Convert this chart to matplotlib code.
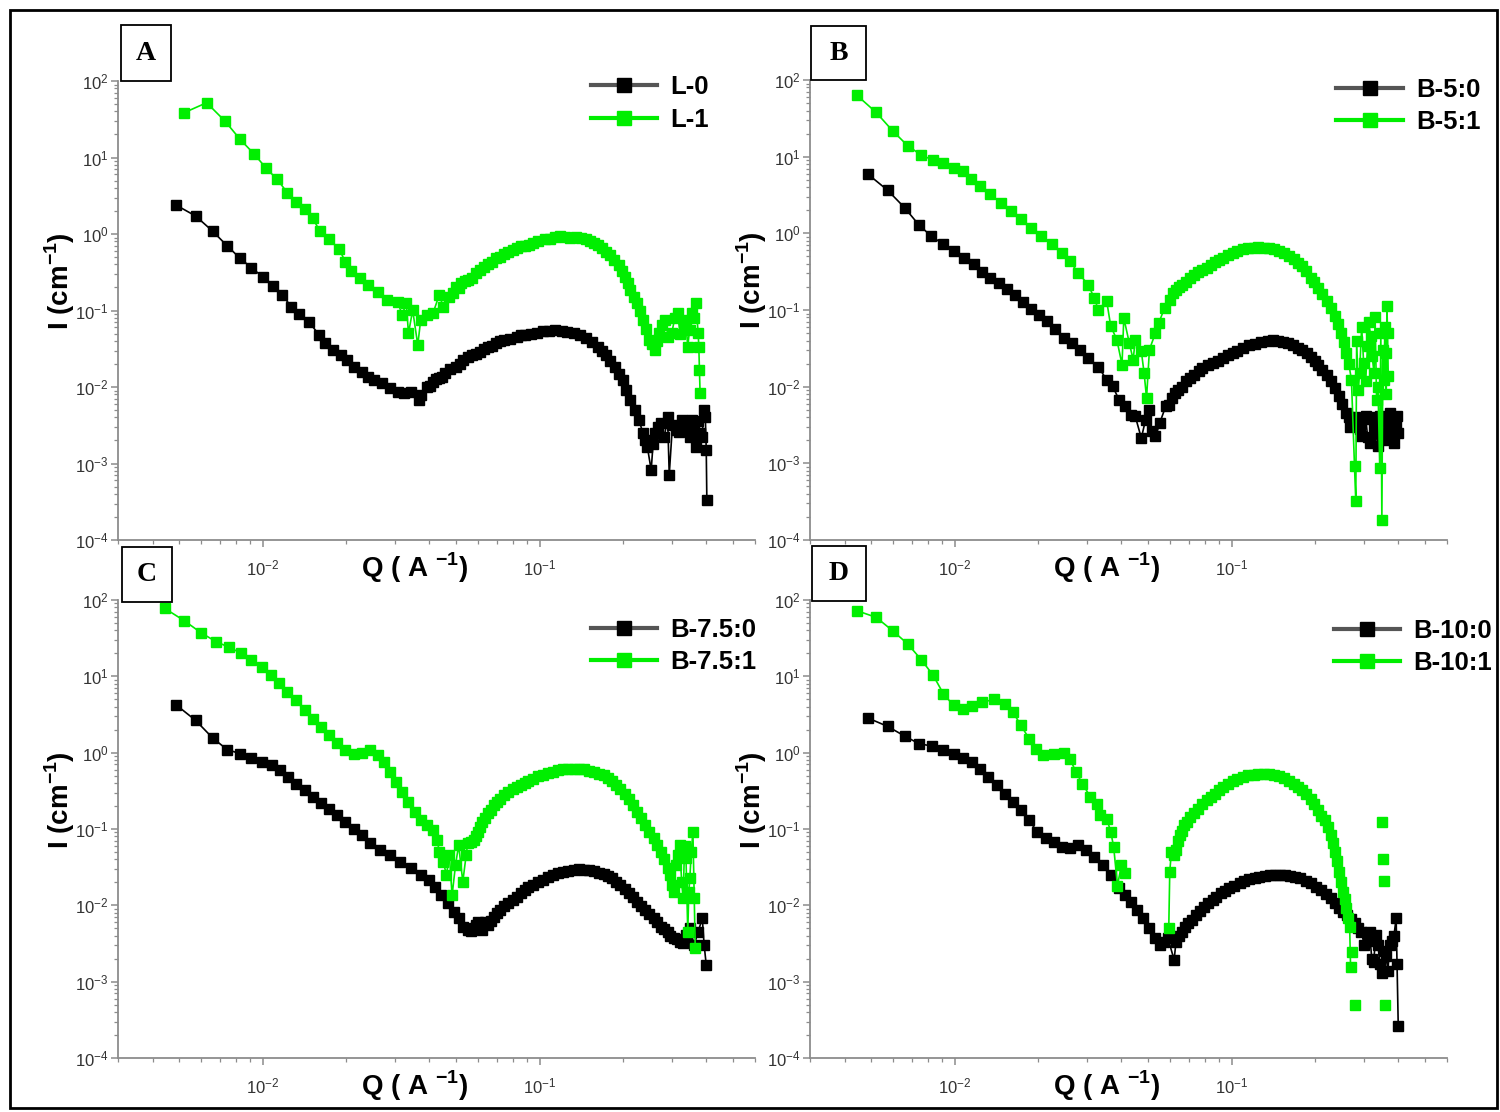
import numpy as np
import matplotlib.pyplot as plt
from matplotlib.patches import Rectangle
from matplotlib.ticker import FixedLocator, LogLocator, NullFormatter

plt.rcParams['font.family'] = ['Liberation Sans', 'DejaVu Sans']
plt.rcParams['mathtext.fontset'] = 'custom'
plt.rcParams['mathtext.rm'] = 'Liberation Sans'
plt.rcParams['mathtext.bf'] = 'Liberation Sans:bold'

nan = np.nan
GREEN = '#00ee00'

# ---- A: L-0 / L-1 ----
q_L0 = [0.00486, 0.00572, 0.00659, 0.00743, 0.00828, 0.0091, 0.00998, 0.0109, 0.01174, 0.0127,
        0.01355, 0.01466, 0.0160, 0.01675, 0.01794, 0.0192, 0.0202, 0.0213, 0.0228, 0.0239,
        0.0252, 0.0270, 0.0289, 0.0309, 0.0325, 0.0342, 0.0366, 0.0372, 0.0392, 0.0412,
        0.0434, 0.0456, 0.0497, 0.0531, 0.0569, 0.0608, 0.0651, 0.0697, 0.0746, 0.0826,
        0.0883, 0.098, 0.108, 0.120, 0.133, 0.147, 0.163, 0.174, 0.187, 0.200,
        0.213, 0.229, 0.236, 0.245, 0.253, 0.262, 0.275, 0.290, 0.294, 0.310,
        0.327, 0.343, 0.355, 0.367, 0.380, 0.393, 0.400, 0.402]
i_L0 = [2.39, 1.72, 1.09, 0.703, 0.481, 0.363, 0.277, 0.211, 0.160, 0.112,
        0.0891, 0.0715, 0.0478, 0.0372, 0.0305, 0.0262, 0.0225, 0.0184, 0.0158, 0.0136,
        0.0123, 0.0112, 0.0096, 0.0087, 0.00826, 0.0087, 0.00676, 0.00785, 0.0101, 0.0117,
        0.0130, 0.0151, 0.0184, 0.0225, 0.0262, 0.0290, 0.0337, 0.0372, 0.0411, 0.0455,
        0.0478, 0.0513, 0.0545, 0.0545, 0.0502, 0.0433, 0.0337, 0.0262, 0.0184, 0.0123,
        0.00676, 0.00371, 0.00248, 0.00166, 0.00082, 0.00248, 0.00335, 0.00409, 0.00071, 0.00274,
        0.00371, 0.00303, 0.00371, 0.00166, 0.00248, 0.0050, 0.0015, 0.00033]
# extra readings inside the dense part of the curve
q_L0_band = [0.0402, 0.0423, 0.0445, 0.0476, 0.0514, 0.0550, 0.0588, 0.0630, 0.0674, 0.0721,
             0.0785, 0.0855, 0.093, 0.103, 0.114, 0.126, 0.140, 0.155, 0.168, 0.180,
             0.193, 0.206, 0.221, 0.240, 0.257, 0.268, 0.282, 0.302, 0.318, 0.335,
             0.349, 0.361, 0.373, 0.386, 0.397]
i_L0_band = [0.0104, 0.0128, 0.0137, 0.0170, 0.0198, 0.0245, 0.0270, 0.0318, 0.0345, 0.0398,
             0.0428, 0.0472, 0.0495, 0.0540, 0.0560, 0.0530, 0.0475, 0.0390, 0.0300, 0.0222,
             0.0150, 0.0092, 0.0050, 0.0020, 0.0018, 0.0030, 0.0022, 0.0032, 0.0026, 0.0036,
             0.0022, 0.0030, 0.0036, 0.0022, 0.0040]

q_L1 = [0.0052, 0.00627, 0.0073, 0.00828, 0.00933, 0.0103, 0.01127, 0.01227, 0.01321, 0.01425,
        0.01514, 0.01604, 0.01734, 0.01888, 0.01985, 0.0209, 0.0224, 0.02395, 0.02606, 0.02806,
        0.0307, 0.0319, 0.0330, 0.0336, 0.0348, 0.0363, 0.0372, 0.0392, 0.0412, 0.0434,
        0.0449, 0.0472, 0.0497, 0.0522, 0.0550, 0.0589, 0.0630, 0.0674, 0.0721, 0.0771,
        0.0826, 0.0883, 0.0946, 0.1047, 0.114, 0.124, 0.135, 0.147, 0.157, 0.168,
        0.180, 0.193, 0.203, 0.213, 0.225, 0.236, 0.249, 0.262, 0.271, 0.285,
        0.300, 0.315, 0.332, 0.343, 0.355, 0.367, 0.374, 0.376, 0.378, 0.380]
i_L1 = [38.5, 52, 30, 17.3, 11.0, 7.2, 5.19, 3.47, 2.59, 2.12,
        1.63, 1.10, 0.85, 0.64, 0.435, 0.332, 0.263, 0.215, 0.176, 0.137,
        0.130, 0.0873, 0.126, 0.0502, 0.101, 0.0354, 0.0751, 0.0873, 0.0918, 0.160,
        0.112, 0.152, 0.205, 0.226, 0.250, 0.306, 0.374, 0.435, 0.506, 0.587,
        0.650, 0.697, 0.755, 0.851, 0.904, 0.923, 0.904, 0.851, 0.755, 0.650,
        0.531, 0.394, 0.277, 0.185, 0.124, 0.0751, 0.0411, 0.0305, 0.0502, 0.0751,
        0.0502, 0.0918, 0.0615, 0.0337, 0.0918, 0.124, 0.0502, 0.0337, 0.0167, 0.0083]
q_L1_band = [0.0485, 0.051, 0.0536, 0.057, 0.061, 0.065, 0.0697, 0.0746, 0.080, 0.0855,
             0.0914, 0.099, 0.109, 0.119, 0.129, 0.141, 0.152, 0.162, 0.174, 0.186,
             0.198, 0.208, 0.219, 0.230, 0.242, 0.255, 0.266, 0.276, 0.292, 0.308,
             0.322, 0.337, 0.348, 0.360]
i_L1_band = [0.170, 0.195, 0.245, 0.270, 0.335, 0.400, 0.480, 0.540, 0.615, 0.690,
             0.720, 0.810, 0.870, 0.935, 0.900, 0.890, 0.800, 0.715, 0.590, 0.460,
             0.330, 0.230, 0.150, 0.098, 0.058, 0.036, 0.040, 0.065, 0.045, 0.080,
             0.050, 0.075, 0.055, 0.080]

# ---- B: B-5:0 / B-5:1 ----
q_B50 = [0.00486, 0.00572, 0.00659, 0.00743, 0.00822, 0.0091, 0.0099, 0.0108, 0.01174, 0.01256,
         0.01345, 0.0144, 0.0154, 0.0165, 0.0177, 0.01888, 0.0202, 0.0216, 0.0231, 0.0248,
         0.0265, 0.0284, 0.0303, 0.0330, 0.0354, 0.0372, 0.0392, 0.0412, 0.0434, 0.0449,
         0.0472, 0.0489, 0.0505, 0.0514, 0.0531, 0.0550, 0.0578, 0.0608, 0.0640, 0.0685,
         0.0733, 0.0785, 0.0855, 0.0930, 0.101, 0.110, 0.122, 0.135, 0.147, 0.160,
         0.174, 0.187, 0.200, 0.213, 0.229, 0.245, 0.258, 0.271, 0.285, 0.294,
         0.305, 0.315, 0.327, 0.338, 0.349, 0.362, 0.374, 0.387, 0.393, 0.400]
i_B50 = [5.9, 3.65, 2.16, 1.28, 0.922, 0.718, 0.587, 0.481, 0.394, 0.312,
         0.263, 0.226, 0.189, 0.155, 0.126, 0.104, 0.0873, 0.0714, 0.0568, 0.0433,
         0.0372, 0.0305, 0.0237, 0.0181, 0.0123, 0.0101, 0.00676, 0.00553, 0.00431, 0.00409,
         0.00213, 0.00371, 0.0050, 0.00261, 0.00224, 0.00335, 0.00553, 0.0071, 0.00914, 0.0117,
         0.0144, 0.0175, 0.0204, 0.0237, 0.0275, 0.032, 0.0365, 0.0392, 0.0392, 0.0372,
         0.032, 0.0275, 0.0214, 0.0167, 0.0117, 0.00748, 0.00453, 0.00303, 0.00335, 0.00224,
         0.00409, 0.00184, 0.00303, 0.00166, 0.00371, 0.00248, 0.00453, 0.00184, 0.00335, 0.00248]
q_B50_band = [0.0593, 0.0624, 0.066, 0.071, 0.076, 0.082, 0.089, 0.097, 0.105, 0.116,
              0.128, 0.141, 0.153, 0.167, 0.180, 0.193, 0.206, 0.221, 0.237, 0.251,
              0.265, 0.268, 0.278, 0.290, 0.300, 0.310, 0.321, 0.332, 0.343, 0.355,
              0.368, 0.380, 0.396]
i_B50_band = [0.0058, 0.0082, 0.0098, 0.0130, 0.0158, 0.0190, 0.0218, 0.0258, 0.0292, 0.0345,
              0.0385, 0.0405, 0.0388, 0.0350, 0.0300, 0.0245, 0.0192, 0.0140, 0.0095, 0.0060,
              0.0040, 0.0030, 0.0040, 0.0028, 0.0038, 0.0022, 0.0040, 0.0025, 0.0042, 0.0020,
              0.0035, 0.0026, 0.0042]

q_B51 = [0.00442, 0.0052, 0.00596, 0.00676, 0.00756, 0.00836, 0.0091, 0.0099, 0.0107, 0.01146,
         0.01235, 0.01345, 0.01466, 0.01594, 0.01734, 0.01888, 0.02056, 0.0224, 0.0244, 0.02606,
         0.0279, 0.0303, 0.0319, 0.0330, 0.0354, 0.0366, 0.0385, 0.0402, 0.0408, 0.0427,
         0.0441, 0.0449, 0.0472, 0.0483, 0.0493, 0.0505, 0.0531, 0.0546, 0.0573, 0.0598,
         0.0630, 0.0662, 0.0709, 0.0759, 0.0812, 0.0869, 0.0930, 0.101, 0.110, 0.120,
         0.131, 0.142, 0.155, 0.168, 0.180, 0.193, 0.206, 0.221, 0.236, 0.249,
         0.260, 0.271, 0.278, 0.281, 0.290, 0.300, 0.310, 0.318, 0.327, 0.334,
         0.343, 0.349, 0.355, 0.360, 0.364, 0.366, 0.368]
i_B51 = [63.7, 37.8, 21.8, 13.9, 10.5, 9.0, 8.15, 7.2, 6.5, 5.08,
         4.16, 3.23, 2.52, 1.96, 1.52, 1.19, 0.922, 0.718, 0.558, 0.435,
         0.306, 0.215, 0.144, 0.101, 0.130, 0.0615, 0.0411, 0.0194, 0.079, 0.0372,
         0.0225, 0.0411, 0.0290, 0.0151, 0.0071, 0.0305, 0.0503, 0.068, 0.107, 0.137,
         0.185, 0.215, 0.263, 0.312, 0.356, 0.422, 0.481, 0.558, 0.618, 0.65,
         0.65, 0.618, 0.547, 0.457, 0.374, 0.263, 0.195, 0.130, 0.083, 0.0503,
         0.0275, 0.0123, 0.00091, 0.00032, 0.0151, 0.0204, 0.0337, 0.0455, 0.0151, 0.00676,
         0.00086, 0.00018, 0.0123, 0.0275, 0.112, 0.0503, 0.0136]
q_B51_band = [0.0614, 0.0645, 0.0685, 0.0733, 0.0785, 0.084, 0.090, 0.097, 0.105, 0.115,
              0.125, 0.136, 0.148, 0.161, 0.174, 0.186, 0.199, 0.213, 0.228, 0.242,
              0.254, 0.265, 0.283, 0.287, 0.295, 0.305, 0.313, 0.322, 0.330, 0.338,
              0.346, 0.352, 0.358, 0.362]
i_B51_band = [0.165, 0.200, 0.235, 0.290, 0.335, 0.390, 0.445, 0.520, 0.590, 0.640,
              0.665, 0.640, 0.590, 0.505, 0.415, 0.320, 0.230, 0.160, 0.105, 0.065,
              0.038, 0.020, 0.040, 0.009, 0.060, 0.012, 0.070, 0.025, 0.080, 0.010,
              0.050, 0.030, 0.060, 0.008]

# ---- C: B-7.5:0 / B-7.5:1 ----
q_C0 = [0.00486, 0.00572, 0.00659, 0.00743, 0.00828, 0.0091, 0.0099, 0.0108, 0.01153, 0.01235,
        0.01321, 0.01416, 0.01514, 0.01622, 0.01734, 0.01857, 0.01985, 0.0213, 0.02275, 0.0244,
        0.0265, 0.0289, 0.0314, 0.0342, 0.0372, 0.0398, 0.0420, 0.0441, 0.0465, 0.0489,
        0.0510, 0.0531, 0.0553, 0.0578, 0.0598, 0.062, 0.0651, 0.0685, 0.0721, 0.0771,
        0.0826, 0.0883, 0.0946, 0.103, 0.112, 0.122, 0.133, 0.145, 0.157, 0.171,
        0.183, 0.196, 0.210, 0.225, 0.240, 0.258, 0.275, 0.290, 0.305, 0.321,
        0.338, 0.349, 0.362, 0.374, 0.387, 0.393, 0.400]
i_C0 = [4.24, 2.65, 1.56, 1.10, 0.97, 0.85, 0.755, 0.683, 0.587, 0.481,
        0.394, 0.322, 0.263, 0.222, 0.182, 0.152, 0.124, 0.101, 0.083, 0.0646,
        0.0528, 0.0455, 0.0372, 0.0305, 0.0249, 0.0214, 0.0175, 0.0136, 0.0106, 0.00826,
        0.00676, 0.00526, 0.00475, 0.0050, 0.0061, 0.00475, 0.00553, 0.0071, 0.0087, 0.0106,
        0.0130, 0.0158, 0.0184, 0.0214, 0.0249, 0.0275, 0.029, 0.029, 0.028, 0.0254,
        0.0225, 0.0184, 0.0144, 0.0112, 0.0087, 0.00676, 0.00526, 0.00453, 0.00371, 0.00335,
        0.00409, 0.0050, 0.00303, 0.00453, 0.00676, 0.00303, 0.00166]
q_C0_band = [0.0565, 0.0588, 0.0609, 0.0635, 0.0668, 0.0703, 0.0746, 0.080, 0.0855, 0.091,
             0.099, 0.107, 0.117, 0.127, 0.139, 0.151, 0.164, 0.177, 0.189, 0.203,
             0.217, 0.232, 0.249, 0.266, 0.282, 0.297, 0.313, 0.330]
i_C0_band = [0.0046, 0.0055, 0.0052, 0.0060, 0.0063, 0.0079, 0.0097, 0.0118, 0.0143, 0.0172,
             0.0200, 0.0232, 0.0262, 0.0282, 0.0298, 0.0292, 0.0268, 0.0240, 0.0205, 0.0162,
             0.0127, 0.0098, 0.0076, 0.0060, 0.0049, 0.0040, 0.0036, 0.0032]

q_C1 = [0.00442, 0.0052, 0.0060, 0.00678, 0.00756, 0.00836, 0.0091, 0.0099, 0.0107, 0.01146,
        0.01227, 0.01321, 0.01416, 0.01514, 0.01622, 0.01734, 0.01857, 0.01985, 0.0213, 0.02275,
        0.0244, 0.02606, 0.0274, 0.0289, 0.0303, 0.0319, 0.0336, 0.0354, 0.0372, 0.0392,
        0.0412, 0.0427, 0.0434, 0.0449, 0.0461, 0.0472, 0.0483, 0.0497, 0.0510, 0.0528,
        0.0543, 0.0550, 0.0578, 0.0598, 0.062, 0.0651, 0.0685, 0.0721, 0.0771, 0.0826,
        0.0883, 0.0946, 0.103, 0.112, 0.122, 0.133, 0.145, 0.157, 0.171, 0.183,
        0.196, 0.210, 0.225, 0.240, 0.258, 0.275, 0.290, 0.300, 0.310, 0.321,
        0.330, 0.338, 0.343, 0.349, 0.358, 0.362, 0.365]
i_C1 = [77.8, 53.7, 37.0, 28.5, 24.0, 20.1, 16.6, 13.2, 10.5, 8.15,
        6.2, 4.83, 3.57, 2.78, 2.16, 1.69, 1.35, 1.10, 0.97, 1.0,
        1.07, 0.94, 0.755, 0.558, 0.413, 0.306, 0.226, 0.168, 0.130, 0.112,
        0.0966, 0.0714, 0.0503, 0.0372, 0.0249, 0.0455, 0.0136, 0.0337, 0.0615, 0.0204,
        0.0455, 0.0646, 0.0714, 0.0918, 0.124, 0.160, 0.205, 0.250, 0.306, 0.356,
        0.405, 0.457, 0.515, 0.558, 0.605, 0.618, 0.605, 0.558, 0.506, 0.422,
        0.338, 0.250, 0.168, 0.112, 0.0751, 0.0503, 0.0305, 0.0184, 0.0337, 0.0615,
        0.0123, 0.0411, 0.00453, 0.0225, 0.0918, 0.0123, 0.00274]
q_C1_band = [0.0565, 0.0588, 0.061, 0.0635, 0.0668, 0.0703, 0.0746, 0.080, 0.0855, 0.091,
             0.099, 0.107, 0.117, 0.127, 0.139, 0.151, 0.164, 0.177, 0.189, 0.203,
             0.217, 0.232, 0.249, 0.266, 0.282, 0.295, 0.305, 0.315, 0.326, 0.334,
             0.346, 0.353]
i_C1_band = [0.068, 0.080, 0.105, 0.140, 0.180, 0.225, 0.280, 0.330, 0.380, 0.430,
             0.490, 0.535, 0.585, 0.615, 0.612, 0.580, 0.530, 0.465, 0.380, 0.290,
             0.205, 0.140, 0.090, 0.062, 0.040, 0.025, 0.015, 0.045, 0.020, 0.060,
             0.015, 0.050]

# ---- D: B-10:0 / B-10:1 (nan = points missing on the log axis) ----
q_D0 = [0.00486, 0.00572, 0.00659, 0.00743, 0.00828, 0.0091, 0.0099, 0.0107, 0.01153, 0.01235,
        0.01321, 0.01416, 0.01514, 0.01622, 0.01734, 0.01857, 0.01985, 0.0213, 0.02275, 0.0244,
        0.02606, 0.0279, 0.0299, 0.0319, 0.0342, 0.0366, 0.0392, 0.0412, 0.0434, 0.0456,
        0.0480, 0.0505, 0.0528, 0.0550, 0.0569, 0.0589, 0.062, 0.0630, 0.0662, 0.0697,
        0.0746, 0.0798, 0.0855, 0.0914, 0.098, 0.107, 0.116, 0.126, 0.138, 0.150,
        0.163, 0.177, 0.193, 0.210, 0.229, 0.245, 0.262, 0.280, 0.294, 0.310,
        0.321, 0.332, 0.343, 0.355, 0.367, 0.380, 0.393, 0.396, 0.400]
i_D0 = [2.84, 2.21, 1.65, 1.31, 1.22, 1.07, 0.97, 0.85, 0.755, 0.618,
        0.481, 0.382, 0.291, 0.226, 0.176, 0.130, 0.0918, 0.0766, 0.068, 0.0585,
        0.0568, 0.0615, 0.053, 0.0433, 0.0337, 0.0249, 0.0167, 0.0136, 0.0112, 0.0087,
        0.00676, 0.0050, 0.00371, 0.00303, 0.00335, 0.00371, 0.00193, 0.00335, 0.00453, 0.00582,
        0.0074, 0.0096, 0.0117, 0.0144, 0.0167, 0.0194, 0.0219, 0.0237, 0.0249, 0.0249,
        0.0243, 0.0225, 0.0194, 0.0158, 0.0123, 0.0091, 0.0074, 0.0058, 0.0045, 0.0034,
        0.0020, 0.0041, 0.0017, 0.0025, 0.0014, 0.0034, 0.0068, 0.0017, 0.00026]
q_D0_band = [0.0645, 0.068, 0.072, 0.077, 0.0825, 0.088, 0.095, 0.102, 0.111, 0.121,
             0.132, 0.144, 0.156, 0.170, 0.185, 0.201, 0.219, 0.237, 0.253, 0.271,
             0.287, 0.302, 0.315, 0.326, 0.338, 0.349, 0.361, 0.373, 0.386]
i_D0_band = [0.0040, 0.0052, 0.0065, 0.0085, 0.0106, 0.0130, 0.0155, 0.0180, 0.0207, 0.0228,
             0.0245, 0.0252, 0.0247, 0.0235, 0.0210, 0.0176, 0.0140, 0.0106, 0.0082, 0.0066,
             0.0050, 0.0030, 0.0045, 0.0018, 0.0030, 0.0013, 0.0022, 0.0030, 0.0040]

q_D1 = [0.00442, 0.0052, 0.00596, 0.00676, 0.00756, 0.00836, 0.0091, 0.0099, 0.0107, 0.01153,
        0.01256, 0.0139, 0.01514, 0.01622, 0.01734, 0.01857, 0.0196, 0.0209, 0.02275, 0.0248,
        0.02606, 0.0274, 0.0289, 0.0309, 0.0327, 0.0336, 0.0354, 0.0366, 0.0375, 0.0387,
        0.0400, 0.0412, 0.050, 0.0593, 0.0598, 0.0606, 0.0630, 0.0651, 0.0674, 0.0709,
        0.0759, 0.0812, 0.0869, 0.0930, 0.101, 0.110, 0.120, 0.131, 0.142, 0.155,
        0.168, 0.180, 0.193, 0.206, 0.217, 0.229, 0.236, 0.245, 0.253, 0.260,
        0.264, 0.267, 0.269, 0.271, 0.273, 0.275, 0.278, 0.300, 0.350, 0.351,
        0.353, 0.355, 0.356, 0.357, 0.359]
i_D1 = [72.6, 59.3, 39.7, 26.6, 16.6, 10.3, 5.9, 4.16, 3.76, 4.07,
        4.6, 4.98, 4.38, 3.4, 2.28, 1.52, 1.13, 0.922, 0.97, 1.0,
        0.835, 0.558, 0.394, 0.263, 0.215, 0.152, 0.137, 0.0918, 0.0585, 0.0181,
        0.0337, 0.0262, nan, 0.0050, 0.0275, 0.0503, 0.053, 0.083, 0.112, 0.144,
        0.185, 0.238, 0.291, 0.356, 0.422, 0.481, 0.515, 0.531, 0.515, 0.467,
        0.394, 0.322, 0.250, 0.176, 0.13, 0.083, 0.0503, 0.0275, 0.0151, 0.00914,
        0.00676, 0.00526, 0.00158, nan, 0.00243, nan, 0.00049, nan, 0.122, nan,
        0.0403, nan, 0.0208, nan, 0.0005]
q_D1_band = [0.0618, 0.064, 0.066, 0.069, 0.073, 0.078, 0.084, 0.090, 0.097, 0.105,
             0.115, 0.125, 0.136, 0.148, 0.161, 0.174, 0.186, 0.199, 0.211, 0.223,
             0.232, 0.240, 0.249, 0.256]
i_D1_band = [0.045, 0.070, 0.095, 0.125, 0.160, 0.210, 0.265, 0.325, 0.390, 0.450,
             0.505, 0.530, 0.525, 0.495, 0.430, 0.360, 0.285, 0.215, 0.150, 0.105,
             0.065, 0.038, 0.020, 0.012]

W, H = 1500, 1112


def fx(x):
    return x / W


def fy(y):
    return 1 - y / H


def merged(q, i, q_band, i_band):
    q_all = np.concatenate([q, q_band])
    i_all = np.concatenate([i, i_band])
    order = np.argsort(q_all, kind='stable')
    return q_all[order], i_all[order]


panels = [
    # letter, axes box (left, top, right, bottom) in px, black, green, legend anchor, label box
    ('A', (118, 81, 755, 540),
     merged(q_L0, i_L0, q_L0_band, i_L0_band) + ('L-0',),
     merged(q_L1, i_L1, q_L1_band, i_L1_band) + ('L-1',),
     (0.742, 1.012), (121, 25, 171, 81)),
    ('B', (810, 80, 1447, 540),
     merged(q_B50, i_B50, q_B50_band, i_B50_band) + ('B-5:0',),
     merged(q_B51, i_B51, q_B51_band, i_B51_band) + ('B-5:1',),
     (0.826, 1.005), (811, 26, 866, 80)),
    ('C', (118, 600, 755, 1058),
     merged(q_C0, i_C0, q_C0_band, i_C0_band) + ('B-7.5:0',),
     merged(q_C1, i_C1, q_C1_band, i_C1_band) + ('B-7.5:1',),
     (0.742, 0.961), (122, 547, 172, 602)),
    ('D', (810, 600, 1447, 1058),
     merged(q_D0, i_D0, q_D0_band, i_D0_band) + ('B-10:0',),
     merged(q_D1, i_D1, q_D1_band, i_D1_band) + ('B-10:1',),
     (0.822, 0.959), (812, 546, 866, 601)),
]

fig = plt.figure(figsize=(15, 11.12), dpi=100)

for letter, (l, t, r, b), blk, grn, leg_xy, (bl, bt, br, bb) in panels:
    ax = fig.add_axes([fx(l), fy(b), (r - l) / W, (b - t) / H])
    ax.plot(blk[0], blk[1], color='black', marker='s', ms=7, lw=1.2, label=blk[2])
    ax.plot(grn[0], grn[1], color=GREEN, marker='s', ms=7, lw=1.2, label=grn[2])
    ax.set_xscale('log')
    ax.set_yscale('log')
    ax.set_xlim(0.003, 0.6)
    ax.set_ylim(1e-4, 1e2)
    ax.yaxis.set_major_locator(FixedLocator([1e-4, 1e-3, 1e-2, 1e-1, 1e0, 1e1, 1e2]))
    ax.xaxis.set_major_locator(FixedLocator([1e-2, 1e-1]))
    ax.yaxis.set_minor_locator(LogLocator(base=10, subs=np.arange(2, 10), numticks=20))
    ax.yaxis.set_minor_formatter(NullFormatter())
    ax.xaxis.set_minor_locator(LogLocator(base=10, subs=np.arange(2, 10), numticks=20))
    ax.xaxis.set_minor_formatter(NullFormatter())
    for s in ('top', 'right'):
        ax.spines[s].set_visible(False)
    for s in ('left', 'bottom'):
        ax.spines[s].set_color('#8c8c8c')
        ax.spines[s].set_linewidth(1.3)
    ax.tick_params(which='major', direction='out', length=5, width=1.1, color='#8c8c8c',
                   labelsize=12, labelcolor='#333333')
    ax.tick_params(which='minor', direction='out', length=3, width=0.9, color='#8c8c8c')
    ax.tick_params(axis='x', which='major', pad=8)
    ax.tick_params(axis='y', which='major', pad=2)

    leg = ax.legend(loc='upper left', bbox_to_anchor=leg_xy, frameon=False, borderpad=0,
                    borderaxespad=0, handlelength=2.6, handletextpad=0.5, labelspacing=0.32,
                    prop={'weight': 'bold', 'size': 18.5})
    for h in leg.get_lines():
        h.set_linewidth(3)
        h.set_markersize(10)
    leg.get_lines()[0].set_color('#555555')
    leg.get_lines()[0].set_markerfacecolor('black')
    leg.get_lines()[0].set_markeredgecolor('black')

    # axis titles
    fig.text(fx(l - 58), fy(t + 200), r'I (cm$^{\mathbf{-1}}$)', rotation=90, fontsize=20,
             fontweight='bold', ha='center', va='center')
    fig.text(fx(l + 297), fy(b + 28), r'Q ( A $^{\mathbf{-1}}$)', fontsize=20,
             fontweight='bold', ha='center', va='center')

    # panel letter box
    fig.add_artist(Rectangle((fx(bl), fy(bb)), (br - bl) / W, (bb - bt) / H,
                             transform=fig.transFigure, facecolor='white',
                             edgecolor='black', lw=1.3, zorder=5))
    fig.text(fx((bl + br) / 2), fy((bt + bb) / 2), letter, family='Liberation Serif',
             fontweight='bold', fontsize=20, ha='center', va='center', zorder=6)

# outer frame
fig.add_artist(Rectangle((fx(10), fy(1108)), 1487 / W, 1098 / H, transform=fig.transFigure,
                         fill=False, edgecolor='black', lw=2, zorder=7))

fig.savefig('out.png', dpi=100)
